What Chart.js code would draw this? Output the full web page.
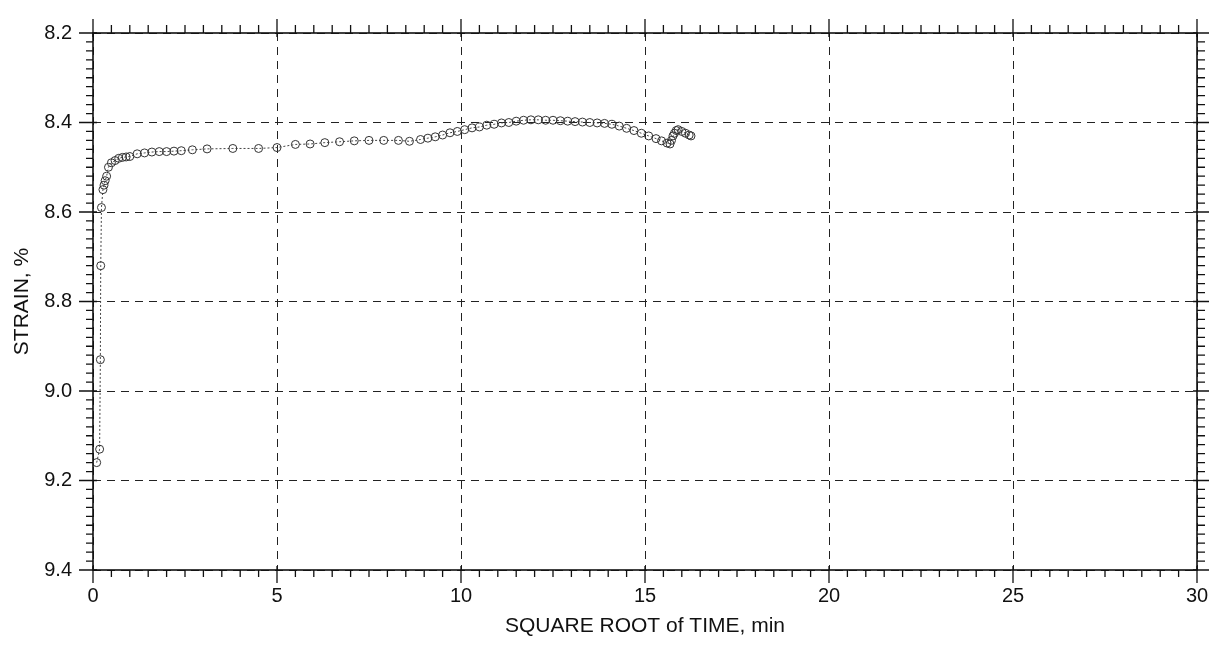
<!DOCTYPE html>
<html>
<head>
<meta charset="utf-8">
<script src="https://cdn.jsdelivr.net/npm/chart.js@4.4.1/dist/chart.umd.min.js"></script>
<style>
  html, body { margin: 0; padding: 0; background: #fff; }
  #wrap { width: 1225px; height: 646px; }
</style>
</head>
<body>
<div id="wrap"><canvas id="strainChart"></canvas></div>
<script>
const sqrtTime = [
  0.10, 0.18, 0.20, 0.21, 0.23, 0.27, 0.30, 0.33, 0.37, 0.42,
  0.50, 0.60, 0.70, 0.80, 0.90, 1.00, 1.20, 1.40, 1.60, 1.80,
  2.00, 2.20, 2.40, 2.70, 3.10, 3.80, 4.50, 5.00, 5.50, 5.90,
  6.30, 6.70, 7.10, 7.50, 7.90, 8.30, 8.60, 8.90, 9.10, 9.30,
  9.50, 9.70, 9.90, 10.10, 10.30, 10.50, 10.70, 10.90, 11.10, 11.30,
  11.50, 11.70, 11.90, 12.10, 12.30, 12.50, 12.70, 12.90, 13.10, 13.30,
  13.50, 13.70, 13.90, 14.10, 14.30, 14.50, 14.70, 14.90, 15.10, 15.30,
  15.45, 15.60, 15.68, 15.72, 15.76, 15.80, 15.85, 15.90, 16.00, 16.10,
  16.20, 16.25
];
const strain = [
  9.160, 9.130, 8.930, 8.720, 8.590, 8.550, 8.540, 8.530, 8.520, 8.500,
  8.490, 8.485, 8.480, 8.478, 8.477, 8.476, 8.470, 8.468, 8.466, 8.465,
  8.465, 8.464, 8.463, 8.461, 8.459, 8.458, 8.458, 8.456, 8.449, 8.448,
  8.445, 8.443, 8.441, 8.440, 8.440, 8.440, 8.442, 8.438, 8.435, 8.432,
  8.428, 8.423, 8.420, 8.416, 8.412, 8.410, 8.406, 8.404, 8.401, 8.400,
  8.397, 8.395, 8.394, 8.394, 8.395, 8.395, 8.396, 8.397, 8.398, 8.399,
  8.400, 8.401, 8.402, 8.404, 8.408, 8.413, 8.418, 8.424, 8.430, 8.436,
  8.441, 8.446, 8.448, 8.440, 8.430, 8.424, 8.418, 8.416, 8.420, 8.424,
  8.428, 8.430
];
const xTicks = [0, 5, 10, 15, 20, 25, 30];
const yTicks = [8.2, 8.4, 8.6, 8.8, 9.0, 9.2, 9.4];

const ink = "#111";
const font = { family: "'Liberation Sans', Arial, sans-serif", size: 20 };

// frame plus major/minor tick marks, placed through the chart scales
const frameTicks = {
  id: "frameTicks",
  afterDraw(chart) {
    const { ctx, chartArea: a, scales: { x, y } } = chart;
    ctx.save();
    ctx.strokeStyle = ink;
    ctx.lineWidth = 1.6;
    ctx.strokeRect(a.left, a.top, a.right - a.left, a.bottom - a.top);
    ctx.lineWidth = 1.3;
    ctx.beginPath();
    for (let i = 0; i <= 60; i++) {
      const px = x.getPixelForValue(xTicks[0] + i * 0.5);
      const major = i % 10 === 0;
      ctx.moveTo(px, a.bottom - (major ? 4 : 0));
      ctx.lineTo(px, a.bottom + (major ? 13 : 7));
      ctx.moveTo(px, a.top + (major ? 4 : 0));
      ctx.lineTo(px, a.top - (major ? 14 : 8));
    }
    for (let i = 0; i <= 60; i++) {
      const py = y.getPixelForValue(yTicks[0] + i * 0.02);
      const major = i % 10 === 0;
      ctx.moveTo(a.left + (major ? 4 : 0), py);
      ctx.lineTo(a.left - (major ? 14 : 7), py);
      ctx.moveTo(a.right - (major ? 4 : 0), py);
      ctx.lineTo(a.right + (major ? 12 : 8), py);
    }
    ctx.stroke();
    ctx.restore();
  },
};

new Chart(document.getElementById("strainChart"), {
  type: "line",
  data: {
    datasets: [
      {
        data: sqrtTime.map((t, i) => ({ x: t, y: strain[i] })),
        borderColor: "#444",
        borderWidth: 1,
        borderDash: [2, 2],
        tension: 0,
        pointStyle: "circle",
        pointRadius: 4,
        pointBorderWidth: 1,
        pointBorderColor: "#333",
        pointBackgroundColor: "rgba(255,255,255,0)",
      },
    ],
  },
  options: {
    responsive: true,
    maintainAspectRatio: false,
    animation: false,
    layout: {
      padding: { top: 24, right: 28, left: 0, bottom: 0 },
    },
    scales: {
      x: {
        type: "linear",
        position: "bottom",
        min: 0,
        max: 30,
        afterBuildTicks: (s) => { s.ticks = xTicks.map((v) => ({ value: v })); },
        afterFit: (s) => { s.height = 76; },
        grid: {
          color: "#222",
          lineWidth: 1,
          drawTicks: false,
        },
        border: { display: false, dash: [8, 6] },
        ticks: {
          color: ink,
          font: font,
          padding: 14,
          maxRotation: 0,
        },
        title: {
          display: true,
          text: "SQUARE ROOT of TIME, min",
          color: ink,
          font: { family: font.family, size: 21 },
          padding: { top: 0, bottom: 7 },
        },
      },
      y: {
        type: "linear",
        position: "left",
        reverse: true,
        min: 8.2,
        max: 9.4,
        afterBuildTicks: (s) => { s.ticks = yTicks.map((v) => ({ value: v })); },
        afterFit: (s) => { s.width = 93; },
        grid: {
          color: "#222",
          lineWidth: 1,
          drawTicks: false,
        },
        border: { display: false, dash: [8, 6] },
        ticks: {
          color: ink,
          font: font,
          padding: 21,
          callback: (v) => Number(v).toFixed(1),
        },
        title: {
          display: true,
          text: "STRAIN, %",
          color: ink,
          font: { family: font.family, size: 21 },
          padding: { top: 10, bottom: 0 },
        },
      },
    },
    plugins: {
      legend: { display: false },
      tooltip: { enabled: false },
    },
  },
  plugins: [frameTicks],
});
</script>
</body>
</html>
